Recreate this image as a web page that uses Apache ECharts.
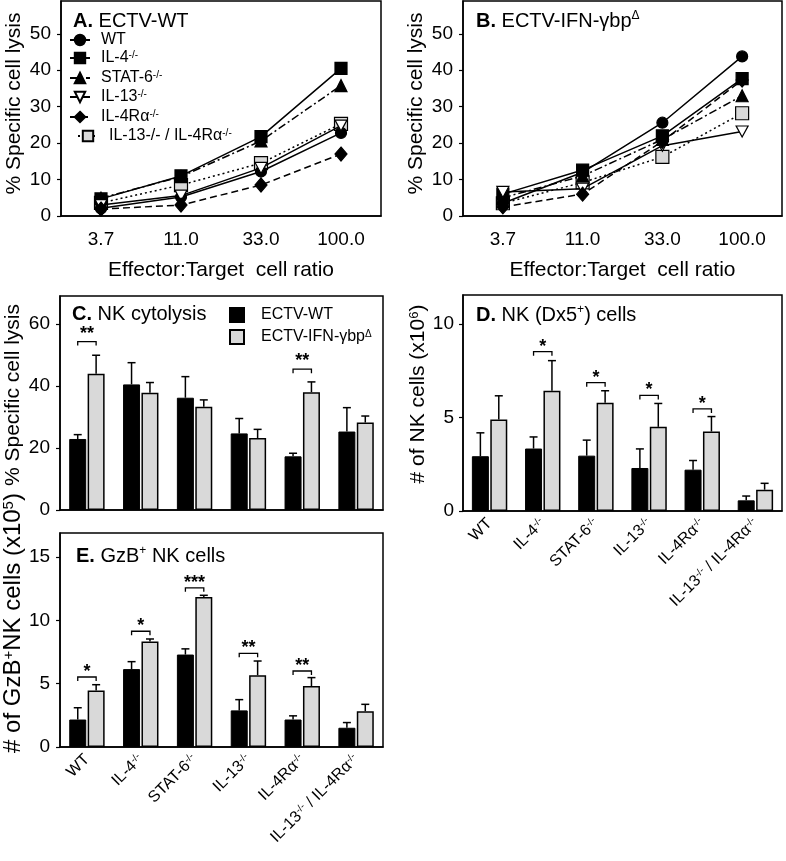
<!DOCTYPE html>
<html>
<head>
<meta charset="UTF-8">
<title></title>
<style>html,body{margin:0;padding:0;background:#fff;}</style>
</head>
<body>
<div id="chart" style="width:786px;height:861px;"></div>
<script src="https://cdn.jsdelivr.net/npm/echarts@6/dist/echarts.min.js"></script>
<script type="text/javascript">
// ---- data ----
var ratios = ['3.7', '11.0', '33.0', '100.0'];
var strains = ['WT', 'IL-4', 'STAT-6', 'IL-13', 'IL-4Rα', 'IL-13/IL-4Rα'];
var strainLabels = ['WT', 'IL-4{s|-/-}', 'STAT-6{s|-/-}', 'IL-13{s|-/-}', 'IL-4Rα{s|-/-}', 'IL-13{s|-/-} / IL-4Rα{s|-/-}'];
var legendLabels = ['WT', 'IL-4{s|-/-}', 'STAT-6{s|-/-}', 'IL-13{s|-/-}', 'IL-4Rα{s|-/-}', 'IL-13-/- / IL-4Rα{s|-/-}'];

// % specific lysis, one row per strain (same order as strains)
var lysisA = [
  [2.1, 5.2, 12.2, 22.8],
  [4.7, 11.0, 21.8, 40.5],
  [4.9, 10.8, 20.6, 35.8],
  [3.0, 5.6, 13.2, 24.8],
  [1.9, 3.0, 8.5, 17.0],
  [3.6, 8.5, 14.5, 25.3]
];
var lysisB = [
  [3.5, 12.0, 25.6, 43.8],
  [6.0, 12.6, 22.0, 37.7],
  [5.0, 11.0, 21.0, 33.0],
  [6.6, 7.5, 19.3, 23.2],
  [2.5, 6.0, 20.5, 37.3],
  [3.5, 9.2, 16.2, 28.2]
];

// C. NK cytolysis (%)
var cytoWT = [22.9, 40.5, 36.2, 24.7, 17.3, 25.3];
var cytoWTsd = [1.4, 7.0, 6.8, 4.8, 1.0, 7.7];
var cytoIFN = [43.9, 37.8, 33.3, 23.2, 38.0, 28.2];
var cytoIFNsd = [6.0, 3.3, 2.2, 2.8, 3.3, 2.1];

// D. NK cells (x10^6)
var nkWT = [2.93, 3.34, 2.96, 2.30, 2.21, 0.57];
var nkWTsd = [1.25, 0.62, 0.83, 1.02, 0.49, 0.23];
var nkIFN = [4.89, 6.43, 5.79, 4.50, 4.25, 1.14];
var nkIFNsd = [1.27, 1.61, 0.64, 1.25, 0.80, 0.34];

// E. GzB+ NK cells (x10^5)
var gzbWT = [2.17, 6.15, 7.30, 2.89, 2.17, 1.52];
var gzbWTsd = [0.93, 0.59, 0.45, 0.85, 0.29, 0.41];
var gzbIFN = [4.47, 8.34, 11.84, 5.67, 4.81, 2.83];
var gzbIFNsd = [0.45, 0.19, 0.14, 1.12, 0.67, 0.54];

// significance brackets: [category, height, stars]
var sigC = [[0, 54.3, '**'], [4, 45.4, '**']];
var sigD = [[1, 8.52, '*'], [2, 6.86, '*'], [3, 6.18, '*'], [4, 5.46, '*']];
var sigE = [[0, 5.53, '*'], [1, 9.14, '*'], [2, 12.57, '***'], [3, 7.4, '**'], [4, 6.0, '**']];

var ticksA = [0, 10, 20, 30, 40, 50];
var ticksC = [0, 20, 40, 60];
var ticksD = [0, 5, 10];
var ticksE = [0, 5, 10, 15];

// ---- styles ----
var F = 'Liberation Sans, Arial, Helvetica, sans-serif';
var GREY = '#d9d9d9';
var BAR_W = 17, BAR_GAP = 1.4;
var OFF = (BAR_W + BAR_GAP) / 2;
var sup = { fontSize: 10, lineHeight: 10, verticalAlign: 'top', fontFamily: F, color: '#000' };

var lineSpecs = [
  { symbol: 'circle', size: 11, fill: '#000', dash: 'solid' },
  { symbol: 'rect', size: 12, fill: '#000', dash: 'solid' },
  { symbol: 'triangle', size: 12, fill: '#000', dash: [8, 3, 2, 3] },
  { symbol: 'path://M0,0L10,0L5,9Z', size: [12, 11], fill: '#fff', dash: 'solid' },
  { symbol: 'diamond', size: [12, 14], fill: '#000', dash: [7, 4] },
  { symbol: 'rect', size: 13, fill: GREY, dash: [2, 3] }
];

var chart = echarts.init(document.getElementById('chart'));

var grids = [
  { left: 61, top: 1, width: 320, height: 215 },
  { left: 463, top: 1, width: 319, height: 215 },
  { left: 60, top: 296, width: 323, height: 214 },
  { left: 463, top: 295, width: 319, height: 216 },
  { left: 60, top: 533, width: 323, height: 214 }
];
grids.forEach(function (g) {
  g.show = true;
  g.borderColor = '#000';
  g.borderWidth = 1.5;
  g.containLabel = false;
});

function yAxis(g, max, ticks, name, gap, pad, margin, nameSize) {
  return {
    gridIndex: g, type: 'value', min: 0, max: max,
    axisLine: { show: true, lineStyle: { color: '#000', width: 1.5 } },
    axisTick: { show: true, customValues: ticks, length: 4, lineStyle: { color: '#000', width: 1.2 } },
    axisLabel: { customValues: ticks, fontSize: 19, color: '#000', fontFamily: F, margin: margin },
    splitLine: { show: false },
    name: name, nameLocation: 'middle', nameGap: gap,
    nameTextStyle: {
      fontSize: nameSize || 21, color: '#000', fontFamily: F, padding: [0, 0, 0, pad],
      rich: { s: { fontSize: Math.round((nameSize || 21) * 0.62), verticalAlign: 'top', fontFamily: F, color: '#000' } }
    }
  };
}

function xAxis(g, data, kind) {
  var ax = {
    gridIndex: g, type: 'category', data: data, boundaryGap: true,
    axisLine: { lineStyle: { color: '#000', width: 1.5 } },
    axisTick: { alignWithLabel: true, interval: 0, length: 5, lineStyle: { color: '#000', width: 1.2 } },
    axisLabel: { fontSize: 19, color: '#000', margin: 14, fontFamily: F, interval: 0 }
  };
  if (kind === 'ratio') {
    ax.name = 'Effector:Target  cell ratio';
    ax.nameLocation = 'middle';
    ax.nameGap = 44;
    ax.nameTextStyle = { fontSize: 21, color: '#000', fontFamily: F };
  } else if (kind === 'none') {
    ax.axisLabel.show = false;
  } else {
    ax.axisLabel = {
      interval: 0, rotate: 45, fontSize: 16, margin: 10, color: '#000', fontFamily: F,
      formatter: function (v, i) { return strainLabels[i]; },
      rich: { s: sup }
    };
  }
  return ax;
}

function errRender(offset) {
  return function (params, api) {
    var base = api.coord([api.value(0), api.value(1)]);
    var top = api.coord([api.value(0), api.value(2)]);
    var x = base[0] + offset;
    return {
      type: 'group',
      children: [
        { type: 'line', shape: { x1: x, y1: base[1], x2: x, y2: top[1] }, style: { stroke: '#000', lineWidth: 1.5 } },
        { type: 'line', shape: { x1: x - 4, y1: top[1], x2: x + 4, y2: top[1] }, style: { stroke: '#000', lineWidth: 1.5 } }
      ]
    };
  };
}

function sigRender(list, lift) {
  return function (params, api) {
    var p = api.coord([api.value(0), api.value(1)]);
    var l = p[0] - OFF, r = p[0] + OFF, y = p[1];
    return {
      type: 'group',
      children: [
        { type: 'polyline', shape: { points: [[l, y + 4], [l, y], [r, y], [r, y + 4]] }, style: { stroke: '#000', lineWidth: 1.3, fill: null } },
        { type: 'text', x: p[0], y: y - lift, style: { text: list[params.dataIndex][2], font: 'bold 18px ' + F, fill: '#000', align: 'center', verticalAlign: 'middle' } }
      ]
    };
  };
}

var series = [];
[lysisA, lysisB].forEach(function (panel, p) {
  panel.forEach(function (vals, i) {
    var s = lineSpecs[i];
    series.push({
      type: 'line', name: strains[i], xAxisIndex: p, yAxisIndex: p,
      data: vals, symbol: s.symbol, symbolSize: s.size, z: 3 + (i === 5 ? 0 : 1),
      itemStyle: { color: s.fill, borderColor: '#000', borderWidth: 1.2 },
      lineStyle: { color: '#000', width: 1.5, type: s.dash }
    });
  });
});

function barPanel(g, wt, wtsd, ifn, ifnsd, sig, lift) {
  series.push({
    type: 'bar', name: 'ECTV-WT', xAxisIndex: g, yAxisIndex: g, data: wt,
    barWidth: BAR_W, barGap: (BAR_GAP / BAR_W * 100) + '%',
    itemStyle: { color: '#000', borderColor: '#000', borderWidth: 1 }
  });
  series.push({
    type: 'bar', name: 'ECTV-IFN-γbp', xAxisIndex: g, yAxisIndex: g, data: ifn,
    barWidth: BAR_W,
    itemStyle: { color: GREY, borderColor: '#000', borderWidth: 1.5 }
  });
  series.push({
    type: 'custom', xAxisIndex: g, yAxisIndex: g, renderItem: errRender(-OFF), z: 5,
    data: wt.map(function (v, i) { return [i, v, v + wtsd[i]]; })
  });
  series.push({
    type: 'custom', xAxisIndex: g, yAxisIndex: g, renderItem: errRender(OFF), z: 5,
    data: ifn.map(function (v, i) { return [i, v, v + ifnsd[i]]; })
  });
  series.push({
    type: 'custom', xAxisIndex: g, yAxisIndex: g, renderItem: sigRender(sig, lift), z: 5,
    data: sig.map(function (d) { return [d[0], d[1]]; })
  });
}
barPanel(2, cytoWT, cytoWTsd, cytoIFN, cytoIFNsd, sigC, 8);
barPanel(3, nkWT, nkWTsd, nkIFN, nkIFNsd, sigD, 5);
barPanel(4, gzbWT, gzbWTsd, gzbIFN, gzbIFNsd, sigE, 5);

var titleStyle = {
  fontSize: 20, fontWeight: 'normal', color: '#000', fontFamily: F, lineHeight: 22,
  rich: {
    b: { fontSize: 20, fontWeight: 'bold', fontFamily: F, color: '#000', lineHeight: 22 },
    s: { fontSize: 12, verticalAlign: 'top', fontFamily: F, color: '#000' }
  }
};
function title(text, left, top) {
  return { text: text, left: left, top: top, padding: 0, textStyle: titleStyle };
}

// one legend block per line-series entry (panel A key)
var legendTops = [32, 50, 70, 89, 109, 128];
var legendLefts = [69, 69, 69, 69, 69, 77];
var legends = strains.map(function (n, i) {
  return {
    data: [n], orient: 'vertical', left: legendLefts[i], top: legendTops[i], padding: 0,
    itemWidth: 20, itemHeight: 13, selectedMode: false,
    textStyle: { fontSize: 16, lineHeight: 16, color: '#000', fontFamily: F, padding: [0, 0, 0, 6], rich: { s: sup } },
    formatter: function () { return legendLabels[i]; }
  };
});
legends.push({
  data: ['ECTV-WT', 'ECTV-IFN-γbp'], orient: 'vertical', left: 229, top: 307, padding: 0,
  itemWidth: 14, itemHeight: 14, itemGap: 6, icon: 'rect', selectedMode: false,
  textStyle: { fontSize: 16, lineHeight: 16, color: '#000', fontFamily: F, padding: [0, 0, 0, 12], rich: { s: sup } },
  formatter: function (n) { return n === 'ECTV-WT' ? n : n + '{s|Δ}'; }
});

var option = {
  backgroundColor: '#fff',
  animation: false,
  title: [
    title('{b|A.} ECTV-WT', 73, 10),
    title('{b|B.} ECTV-IFN-γbp{s|Δ}', 476, 10),
    title('{b|C.} NK cytolysis', 72, 303),
    title('{b|D.} NK (Dx5{s|+}) cells', 476, 304),
    title('{b|E.} GzB{s|+} NK cells', 76, 545)
  ],
  legend: legends,
  grid: grids,
  xAxis: [
    xAxis(0, ratios, 'ratio'),
    xAxis(1, ratios, 'ratio'),
    xAxis(2, strains, 'none'),
    xAxis(3, strains, 'rot'),
    xAxis(4, strains, 'rot')
  ],
  yAxis: [
    yAxis(0, 59, ticksA, '% Specific cell lysis', 36, 10, 10),
    yAxis(1, 59, ticksA, '% Specific cell lysis', 36, 10, 10),
    yAxis(2, 69, ticksC, '% Specific cell lysis', 36, 16, 10),
    yAxis(3, 11.55, ticksD, '# of NK cells (x10{s|6})', 31, 18, 9),
    yAxis(4, 16.9, ticksE, '# of GzB{s|+}NK cells (x10{s|5})', 31, 34, 10, 24)
  ],
  series: series
};
chart.setOption(option);
</script>
</body>
</html>
